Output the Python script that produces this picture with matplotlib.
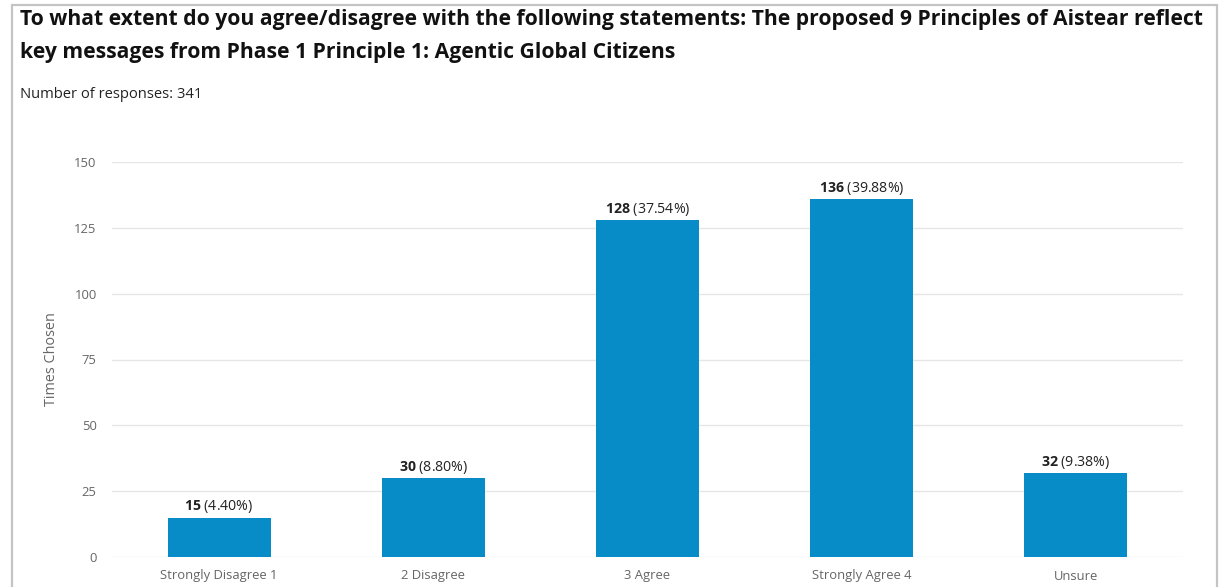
import matplotlib.pyplot as plt
from matplotlib.patches import Rectangle

# Survey results
categories = ["Strongly Disagree 1", "2 Disagree", "3 Agree", "Strongly Agree 4", "Unsure"]
counts = [15, 30, 128, 136, 32]
percents = [4.40, 8.80, 37.54, 39.88, 9.38]
y_ticks = [0, 25, 50, 75, 100, 125, 150]
total_responses = 341

plt.rcParams['font.family'] = ['Open Sans', 'DejaVu Sans']
plt.rcParams['mathtext.fontset'] = 'custom'
plt.rcParams['mathtext.rm'] = 'Open Sans'
plt.rcParams['mathtext.bf'] = 'Open Sans:bold'

W, H = 1220, 587
fig = plt.figure(figsize=(W / 100, H / 100), dpi=100)
fig.patch.set_facecolor('white')

# outer frame
fig.patches.append(Rectangle((12 / W, -0.05), (1217 - 12) / W, 1.05 - 5 / H,
                             transform=fig.transFigure, fill=False,
                             edgecolor='#c4c4c4', linewidth=1.6))

fig.text(20 / W, 1 - 9 / H,
         "To what extent do you agree/disagree with the following statements: The proposed 9 Principles of Aistear reflect\n"
         "key messages from Phase 1 Principle 1: Agentic Global Citizens",
         fontsize=15.2, fontweight='bold', color='#111111', va='top', ha='left',
         linespacing=1.72)
fig.text(20 / W, 1 - 98 / H, f"Number of responses: {total_responses}",
         fontsize=10.6, color='#222222', va='baseline', ha='left')

ax = fig.add_axes([112 / W, 1 - 557 / H, (1183 - 112) / W, (557 - 162) / H])
x = range(len(categories))
bars = ax.bar(x, counts, width=0.48, color='#078cc8', zorder=3)

for b, c, p in zip(bars, counts, percents):
    ax.annotate(rf"$\mathbf{{{c}}}$ ({p:.2f}%)",
                (b.get_x() + b.get_width() / 2, b.get_height()),
                xytext=(0, 1.5), textcoords='offset points',
                ha='center', va='bottom', fontsize=10.2, color='#222222')

ax.set_xlim(-0.5, len(categories) - 0.5)
ax.set_ylim(0, 150)
ax.set_yticks(y_ticks)
ax.set_xticks(list(x))
ax.set_xticklabels(categories)
ax.grid(axis='y', color='#e6e6e6', linewidth=1, zorder=0)
ax.tick_params(length=0, labelsize=9.4, labelcolor='#666666')
ax.tick_params(axis='y', pad=11)
ax.tick_params(axis='x', pad=9)
for s in ax.spines.values():
    s.set_visible(False)
ax.set_ylabel("Times Chosen", fontsize=10.4, color='#666666', labelpad=11)

plt.savefig("out.png", dpi=100)
